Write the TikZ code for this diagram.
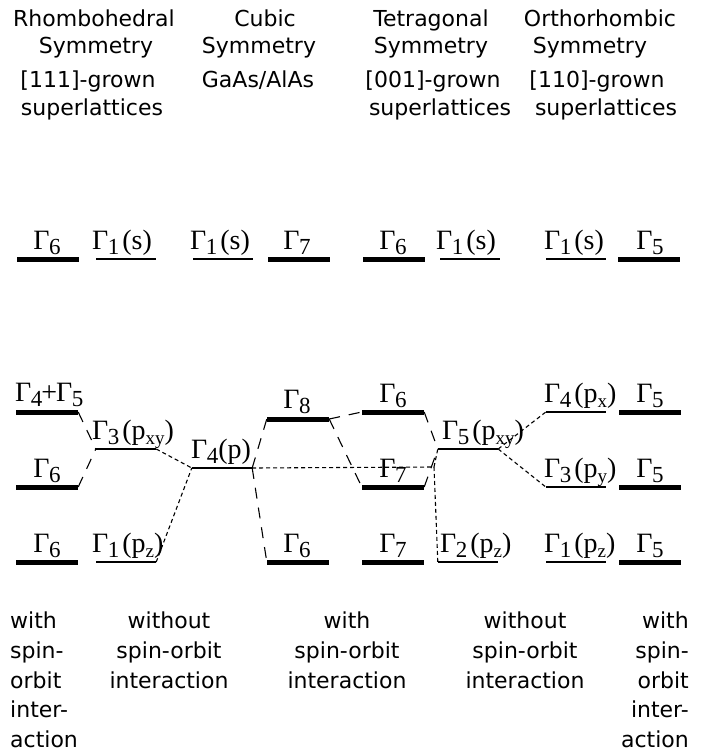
\documentclass[tikz,border=0pt]{standalone}
\usepackage{fontspec}
\setmainfont{Liberation Serif}
\newfontfamily\hdfont{DejaVu Sans}
\newcommand\Gsub[1]{Γ\kern-0.5pt\raisebox{-5pt}{\fontsize{23}{23}\selectfont #1}}
\newcommand\Psub[1]{p\raisebox{-5pt}{\fontsize{19}{19}\selectfont #1}}
\begin{document}
\begin{tikzpicture}[x=1pt,y=-1pt,
  tbar/.style={rectangle,fill=black,draw=none,inner sep=0pt,minimum width=62pt,minimum height=5pt},
  nbar/.style={rectangle,fill=black,draw=none,inner sep=0pt,minimum width=60pt,minimum height=2pt},
  lab/.style={inner sep=0pt,anchor=base,font=\fontsize{28}{28}\selectfont},
  labl/.style={lab,anchor=base west},
  hd/.style={inner sep=0pt,anchor=base,font=\hdfont\fontsize{22}{22}\selectfont},
  hdl/.style={hd,anchor=base west},
  hdr/.style={hd,anchor=base east},
  ldash/.style={line width=1.1pt,dash pattern=on 11pt off 9pt},
  sdash/.style={line width=1.1pt,dash pattern=on 4pt off 3pt}]
\useasboundingbox (0,0) rectangle (705,752);

% headers
\node[hd] (h1a) at (94,27) {Rhombohedral};
\node[hd] (h1b) at (96,54) {Symmetry};
\node[hd] (h1c) at (88,88) {[111]-grown};
\node[hd] (h1d) at (92,115) {superlattices};
\node[hd] (h2a) at (265,27) {Cubic};
\node[hd] (h2b) at (259,54) {Symmetry};
\node[hd] (h2c) at (258,88) {GaAs/AlAs};
\node[hd] (h3a) at (431,27) {Tetragonal};
\node[hd] (h3b) at (431,54) {Symmetry};
\node[hd] (h3c) at (433,88) {[001]-grown};
\node[hd] (h3d) at (440,115) {superlattices};
\node[hd] (h4a) at (600,27) {Orthorhombic};
\node[hd] (h4b) at (590,54) {Symmetry};
\node[hd] (h4c) at (597,88) {[110]-grown};
\node[hd] (h4d) at (606,115) {superlattices};

% top row
\node[tbar] (T1) at (48,259) {};
\node[nbar] (T2) at (126,259) {};
\node[nbar] (T3) at (223,259) {};
\node[tbar] (T4) at (299,259) {};
\node[tbar] (T5) at (394,259) {};
\node[nbar] (T6) at (470,259) {};
\node[nbar] (T7) at (576,259) {};
\node[tbar] (T8) at (649,259) {};
\node[lab] (t1) at (47,249) {\Gsub{6}};
\node[labl] (t2) at (92,249) {\Gsub{1}\kern3pt(s)};
\node[labl] (t3) at (190,249) {\Gsub{1}\kern3pt(s)};
\node[lab] (t4) at (297,249) {\Gsub{7}};
\node[lab] (t5) at (393,249) {\Gsub{6}};
\node[labl] (t6) at (436,249) {\Gsub{1}\kern3pt(s)};
\node[labl] (t7) at (544,249) {\Gsub{1}\kern3pt(s)};
\node[lab] (t8) at (650,249) {\Gsub{5}};

% lower levels
\node[tbar] (R1) at (47,412) {};
\node[tbar] (R2) at (47,487) {};
\node[tbar] (R3) at (47,562) {};
\node[nbar] (Q1) at (126,449) {};
\node[nbar] (Q2) at (126,562) {};
\node[nbar] (C1) at (222,468) {};
\node[tbar] (S1) at (298,419) {};
\node[tbar] (S2) at (298,562) {};
\node[tbar] (U1) at (393,412) {};
\node[tbar] (U2) at (393,487) {};
\node[tbar] (U3) at (393,562) {};
\node[nbar] (V1) at (468,449) {};
\node[nbar] (V2) at (468,562) {};
\node[nbar] (W1) at (576,412) {};
\node[nbar] (W2) at (576,487) {};
\node[nbar] (W3) at (576,562) {};
\node[tbar] (X1) at (650,412) {};
\node[tbar] (X2) at (650,487) {};
\node[tbar] (X3) at (650,562) {};

\node[labl] (r1) at (15,401) {\Gsub{4}\kern-1pt+\kern-1pt\Gsub{5}};
\node[lab] (r2) at (47,477) {\Gsub{6}};
\node[lab] (r3) at (47,552) {\Gsub{6}};
\node[labl] (q1) at (92,439) {\Gsub{3}\kern3pt(\Psub{xy})};
\node[labl] (q2) at (92,552) {\Gsub{1}\kern3pt(\Psub{z})};
\node[labl] (c1) at (191,458) {\Gsub{4}(p)};
\node[lab] (s1) at (297,408) {\Gsub{8}};
\node[lab] (s2) at (297,552) {\Gsub{6}};
\node[lab] (u1) at (393,402) {\Gsub{6}};
\node[lab] (u2) at (393,477) {\Gsub{7}};
\node[lab] (u3) at (393,552) {\Gsub{7}};
\node[labl] (v1) at (442,439) {\Gsub{5}\kern3pt(\Psub{xy})};
\node[labl] (v2) at (440,552) {\Gsub{2}\kern3pt(\Psub{z})};
\node[labl] (w1) at (544,402) {\Gsub{4}\kern3pt(\Psub{x})};
\node[labl] (w2) at (544,477) {\Gsub{3}\kern3pt(\Psub{y})};
\node[labl] (w3) at (544,552) {\Gsub{1}\kern3pt(\Psub{z})};
\node[lab] (x1) at (650,402) {\Gsub{5}};
\node[lab] (x2) at (650,477) {\Gsub{5}};
\node[lab] (x3) at (650,552) {\Gsub{5}};

% connectors
\coordinate (J) at (434,467);
\draw[ldash] (R1.east) -- (Q1.west);
\draw[ldash] (R2.east) -- (Q1.west);
\draw[sdash] (Q1.east) -- (C1.west);
\draw[sdash] (Q2.east) -- (C1.west);
\draw[ldash] (C1.east) -- (S1.west);
\draw[ldash] (C1.east) -- (S2.west);
\draw[ldash] (S1.east) -- (U1.west);
\draw[ldash] (S1.east) -- (U2.west);
\draw[ldash] (U1.east) -- (V1.west);
\draw[ldash] (U2.east) -- (V1.west);
\draw[sdash] (C1.east) -- (J);
\draw[sdash] (J) -- (V1.west);
\draw[sdash] (J) -- (V2.west);
\draw[sdash] (V1.east) -- (W1.west);
\draw[sdash] (V1.east) -- (W2.west);

% bottom captions
\node[hdl] (f1a) at (10,628) {with};
\node[hdl] (f1b) at (10,658) {spin-};
\node[hdl] (f1c) at (10,688) {orbit};
\node[hdl] (f1d) at (10,717) {inter-};
\node[hdl] (f1e) at (10,747) {action};
\node[hd] (f2a) at (169,628) {without};
\node[hd] (f2b) at (169,658) {spin-orbit};
\node[hd] (f2c) at (169,688) {interaction};
\node[hd] (f3a) at (347,628) {with};
\node[hd] (f3b) at (347,658) {spin-orbit};
\node[hd] (f3c) at (347,688) {interaction};
\node[hd] (f4a) at (525,628) {without};
\node[hd] (f4b) at (525,658) {spin-orbit};
\node[hd] (f4c) at (525,688) {interaction};
\node[hdr] (f5a) at (689,628) {with};
\node[hdr] (f5b) at (689,658) {spin-};
\node[hdr] (f5c) at (689,688) {orbit};
\node[hdr] (f5d) at (689,717) {inter-};
\node[hdr] (f5e) at (689,747) {action};
\end{tikzpicture}
\end{document}
